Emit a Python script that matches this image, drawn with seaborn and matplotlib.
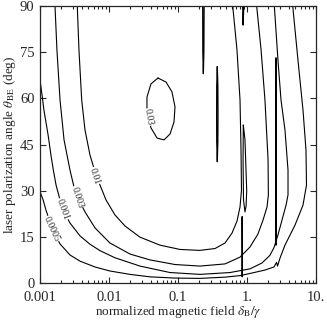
import pandas as pd
import matplotlib
matplotlib.use('Agg')
import matplotlib.pyplot as plt
import matplotlib.ticker as mticker
import seaborn as sns

# Contour lines
# x = normalized magnetic field delta_B/gamma, y = polarization angle (deg)
lvl_0005_x = [0.00100, 0.00111, 0.00122, 0.00140, 0.00165, 0.00195, 0.00272, 0.00380, 0.00627, 0.0103,
              0.0202, 0.0393, 0.0905, 0.208, 0.480, 0.792, 1.105, 1.82, 2.46, 2.68, 2.77, 3.01, 3.55,
              4.96, 6.48, 7.28, 7.16, 6.48, 5.48, 4.60]
lvl_0005_y = [29.7, 27.0, 23.7, 19.8, 15.6, 12.7, 9.1, 7.1, 5.2, 3.9,
              2.8, 2.0, 1.6, 1.5, 1.9, 2.4, 3.1, 4.2, 5.2, 6.7, 5.5, 8.1, 12.3,
              18.8, 25.3, 31.8, 43.2, 56.2, 72.4, 90.0]

lvl_001_x = [0.00100, 0.00107, 0.00114, 0.00131, 0.00144, 0.00156, 0.00171, 0.00195, 0.00223, 0.00272,
             0.00380, 0.00530, 0.00741, 0.0122, 0.0281, 0.0766, 0.208, 0.567, 1.105, 1.65,
             2.15, 2.46, 2.81, 3.22, 3.68, 3.93, 3.93, 3.55, 3.11, 2.81, 2.49]
lvl_001_y = [66.0, 61.1, 56.2, 48.1, 41.6, 36.7, 31.8, 27.0, 23.1, 19.5,
             15.3, 12.6, 10.5, 8.2, 5.5, 3.4, 2.8, 3.4, 4.6, 6.5,
             9.0, 11.5, 15.6, 20.5, 25.3, 28.6, 36.7, 49.7, 59.5, 72.4, 90.0]

lvl_003_x = [0.00165, 0.00176, 0.00195, 0.00223, 0.00272, 0.00311, 0.00367, 0.00449, 0.00627, 0.0103,
             0.0202, 0.0393, 0.0905, 0.208, 0.480, 0.792, 1.105, 1.44, 1.71, 1.95,
             2.04, 2.02, 1.82, 1.60, 1.38]
lvl_003_y = [90.0, 75.7, 59.5, 46.5, 36.7, 31.2, 27.0, 23.1, 17.9, 13.0,
             9.4, 7.5, 6.0, 5.5, 6.2, 8.4, 11.7, 15.9, 20.5, 24.7,
             28.6, 40.0, 59.5, 75.7, 90.0]

lvl_01_x = [0.00347, 0.00367, 0.00402, 0.00449, 0.00530, 0.00627, 0.00741, 0.00905, 0.0122, 0.0171,
            0.0281, 0.0548, 0.107, 0.208, 0.344, 0.480, 0.606, 0.716, 0.792, 0.832,
            0.819, 0.792, 0.716, 0.621]
lvl_01_y = [90.0, 75.7, 59.5, 49.7, 41.6, 36.1, 31.8, 27.0, 22.1, 18.5,
            14.9, 12.3, 10.9, 10.6, 11.2, 13.0, 16.2, 20.1, 24.7, 30.2,
            43.2, 59.5, 75.7, 90.0]

lvl_03_x = [0.0513, 0.0670, 0.0818, 0.0905, 0.0875, 0.0766, 0.0627, 0.0497, 0.0406, 0.0355,
            0.0355, 0.0406, 0.0513]
lvl_03_y = [66.6, 65.3, 62.1, 57.2, 52.3, 48.4, 46.5, 47.1, 50.4, 55.6,
            60.4, 64.7, 66.6]

# narrow closed contours (seen as dark spikes)
spike_a_x = [0.228, 0.229, 0.233, 0.237, 0.239]
spike_a_y = [90.0, 75.0, 68.0, 75.0, 90.0]
spike_b_x = [0.371, 0.364, 0.363, 0.364, 0.371, 0.378, 0.380, 0.378, 0.371]
spike_b_y = [70.3, 64.0, 55.0, 46.0, 39.4, 46.0, 55.0, 64.0, 70.3]
spike_c_x = [0.866, 0.878, 0.898]
spike_c_y = [90.0, 83.8, 90.0]
loop_d_x = [0.884, 0.935, 0.990, 0.970, 0.935, 0.890, 0.877, 0.884]
loop_d_y = [51.3, 46.5, 30.0, 25.0, 23.1, 27.0, 40.0, 51.3]
spike_e_x = [0.850, 0.847, 0.852, 0.858, 0.850]
spike_e_y = [21.5, 10.0, 2.0, 10.0, 21.5]
spike_f_x = [2.63, 2.61, 2.61, 2.63, 2.66, 2.66, 2.63]
spike_f_y = [73.1, 60.0, 20.0, 12.3, 20.0, 60.0, 73.1]

# contour labels: text, x, y, rotation
label_text = ['0.0005', '0.001', '0.003', '0.01', '0.03']
label_x = [0.00149, 0.00215, 0.00344, 0.00627, 0.0375]
label_y = [17.5, 24.0, 27.9, 34.8, 53.9]
label_rot = [-65, -70, -72, -72, -80]

x_ticks = [0.001, 0.01, 0.1, 1, 10]
x_tick_labels = ['0.001', '0.01', '0.1', '1.', '10.']
y_ticks = [0, 15, 30, 45, 60, 75, 90]

curves = [
    ('c0005', lvl_0005_x, lvl_0005_y, 'thin'),
    ('c001', lvl_001_x, lvl_001_y, 'thin'),
    ('c003', lvl_003_x, lvl_003_y, 'thin'),
    ('c01', lvl_01_x, lvl_01_y, 'thin'),
    ('c03', lvl_03_x, lvl_03_y, 'thin'),
    ('sa', spike_a_x, spike_a_y, 'thick'),
    ('sb', spike_b_x, spike_b_y, 'thick'),
    ('sc', spike_c_x, spike_c_y, 'thick'),
    ('ld', loop_d_x, loop_d_y, 'thin'),
    ('se', spike_e_x, spike_e_y, 'thick'),
    ('sf', spike_f_x, spike_f_y, 'thick'),
]
rows = []
for name, xs, ys, w in curves:
    for i, (xv, yv) in enumerate(zip(xs, ys)):
        rows.append({'curve': name, 'order': i, 'x': xv, 'y': yv, 'w': w})
df = pd.DataFrame(rows)

sns.set_style('ticks')
plt.rcParams['font.family'] = ['Liberation Serif', 'DejaVu Serif']
plt.rcParams['mathtext.fontset'] = 'stix'

fig = plt.figure(figsize=(3.27, 3.22), dpi=100)
ax = fig.add_axes([40 / 327, 39 / 322, 276 / 327, 277 / 322])
ax.set_xscale('log')

sns.lineplot(data=df[df.w == 'thin'], x='x', y='y', units='curve', estimator=None, sort=False,
             color='black', lw=0.8, ax=ax)
sns.lineplot(data=df[df.w == 'thick'], x='x', y='y', units='curve', estimator=None, sort=False,
             color='black', lw=0.9, ax=ax)

for t, lx, ly, r in zip(label_text, label_x, label_y, label_rot):
    ax.text(lx, ly, t, rotation=r, fontsize=7, ha='center', va='center', rotation_mode='anchor',
            bbox=dict(fc='white', ec='none', pad=0.3))

ax.set_xlim(0.001, 10)
ax.set_ylim(0, 90)
ax.set_xticks(x_ticks)
ax.set_xticklabels(x_tick_labels)
ax.xaxis.set_minor_locator(mticker.LogLocator(base=10, subs=range(2, 10)))
ax.xaxis.set_minor_formatter(mticker.NullFormatter())
ax.set_yticks(y_ticks)
ax.tick_params(which='both', direction='in', top=True, right=True, labelsize=10.5)
ax.tick_params(axis='x', pad=5.5)
ax.tick_params(axis='y', pad=4)
ax.tick_params(which='major', length=4, width=0.8)
ax.tick_params(which='minor', length=2.5, width=0.8)
for s in ax.spines.values():
    s.set_linewidth(0.9)

ax.set_xlabel(r'normalized magnetic field $\delta_{\rm B}/\gamma$', fontsize=9.5, labelpad=0)
ax.set_ylabel(r'laser polarization angle $\theta_{\rm BE}$ (deg)', fontsize=9.5, labelpad=1)

fig.savefig('out.png', dpi=100)
